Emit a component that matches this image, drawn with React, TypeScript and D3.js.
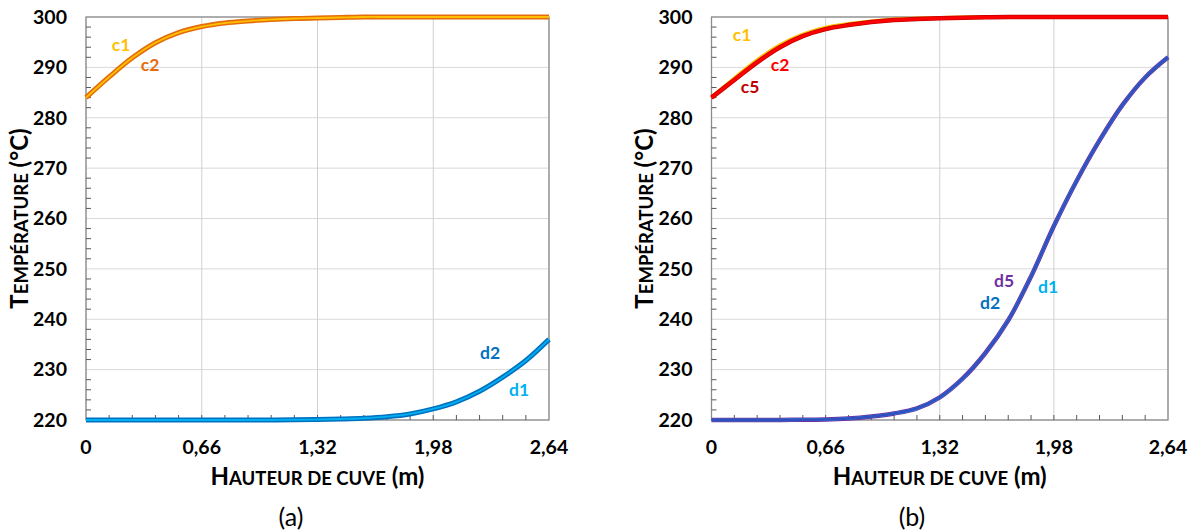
import React from "react";
import * as d3 from "d3";

// ---------- data ----------
const xValues = [0, 0.132, 0.264, 0.396, 0.528, 0.66, 0.792, 0.924, 1.056, 1.188, 1.32, 1.452, 1.584, 1.716, 1.848, 1.98, 2.112, 2.244, 2.376, 2.508, 2.64];
const xTicks = [0, 0.66, 1.32, 1.98, 2.64];
const xTickLabels = ["0", "0,66", "1,32", "1,98", "2,64"];
const yTicks = [220, 230, 240, 250, 260, 270, 280, 290, 300];

// panel (a)
const cA = [284.0, 288.1, 291.9, 294.9, 296.9, 298.1, 298.8, 299.2, 299.5, 299.7, 299.8, 299.9, 300, 300, 300, 300, 300, 300, 300, 300, 300];
const dA = [220.0, 220.0, 220.0, 220.0, 220.0, 220.0, 220.0, 220.0, 220.0, 220.05, 220.1, 220.2, 220.35, 220.65, 221.2, 222.2, 223.6, 225.7, 228.5, 231.8, 236.0];

// panel (b)
const c1B = [284.0, 287.8, 291.4, 294.4, 296.5, 297.9, 298.6, 299.1, 299.5, 299.7, 299.8, 299.9, 300, 300, 300, 300, 300, 300, 300, 300, 300];
const c2B = [284.0, 287.5, 291.0, 294.0, 296.2, 297.6, 298.4, 299.0, 299.4, 299.6, 299.75, 299.85, 299.95, 300, 300, 300, 300, 300, 300, 300, 300];
const c5B = [284.0, 287.5, 291.0, 294.0, 296.2, 297.6, 298.4, 299.0, 299.4, 299.6, 299.75, 299.85, 299.95, 300, 300, 300, 300, 300, 300, 300, 300];
const dB = [220.0, 220.0, 220.0, 220.0, 220.05, 220.1, 220.3, 220.7, 221.3, 222.3, 224.5, 228.2, 233.3, 239.8, 248.5, 258.5, 267.5, 275.5, 282.5, 288.0, 292.0];

type Series = { values: number[]; color: string; width: number };
type Label = { text: string; color: string; x: number; y: number };

const FONT = "Lato, 'Open Sans', sans-serif";

function Panel({ left, right, series, labels, caption, captionX }: {
  left: number; right: number; series: Series[]; labels: Label[]; caption: string; captionX: number;
}) {
  const top = 17, bottom = 420;
  const x = d3.scaleLinear().domain([0, 2.64]).range([left, right]);
  const y = d3.scaleLinear().domain([220, 300]).range([bottom, top]);
  const line = d3.line<[number, number]>()
    .x((d) => x(d[0]))
    .y((d) => Math.max(top, y(d[1])))
    .curve(d3.curveCatmullRom.alpha(0.5));
  const minorY = d3.range(222, 300, 2).filter((v) => v % 10 !== 0);
  const minorX = d3.range(1, 20).map((i) => i * 0.132);
  const cx = (left + right) / 2;
  return (
    <g>
      {/* grid */}
      {yTicks.map((t) => (
        <line key={"gy" + t} x1={left} x2={right} y1={y(t)} y2={y(t)} stroke="#d9d9d9" strokeWidth={1} />
      ))}
      {xTicks.map((t) => (
        <line key={"gx" + t} x1={x(t)} x2={x(t)} y1={top} y2={bottom} stroke="#d0d0d0" strokeWidth={1} />
      ))}
      {/* border */}
      <rect x={left} y={top} width={right - left} height={bottom - top} fill="none" stroke="#8c8c8c" strokeWidth={1.3} />
      {/* minor ticks */}
      {minorY.map((t) => (
        <line key={"my" + t} x1={left} x2={left + 5} y1={y(t)} y2={y(t)} stroke="#595959" strokeWidth={1} />
      ))}
      {minorX.map((t, i) => (
        <line key={"mx" + i} x1={x(t)} x2={x(t)} y1={bottom} y2={bottom - 5} stroke="#595959" strokeWidth={1} />
      ))}
      {/* series */}
      {series.map((s, i) => (
        <path key={"s" + i}
          d={line(xValues.map((xv, j) => [xv, s.values[j]] as [number, number])) || ""}
          fill="none" stroke={s.color} strokeWidth={s.width} strokeLinejoin="round" strokeLinecap="butt" />
      ))}
      {/* tick labels */}
      {yTicks.map((t) => (
        <text key={"ly" + t} x={left - 19} y={y(t)} dy="0.35em" textAnchor="end"
          fontFamily={FONT} fontWeight="bold" fontSize={19.5} fill="#000">{t}</text>
      ))}
      {xTicks.map((t, i) => (
        <text key={"lx" + t} x={x(t)} y={447} dy="0.35em" textAnchor="middle"
          fontFamily={FONT} fontWeight="bold" fontSize={19.5} fill="#000">{xTickLabels[i]}</text>
      ))}
      {/* curve labels */}
      {labels.map((l, i) => (
        <text key={"cl" + i} x={l.x} y={l.y} dy="0.35em" textAnchor="middle"
          fontFamily={FONT} fontWeight="bold" fontSize={17.5} fill={l.color}>{l.text}</text>
      ))}
      {/* axis titles */}
      <text x={cx} y={479} dy="0.35em" textAnchor="middle" fontFamily={FONT} fontWeight="bold" fill="#000">
        <tspan fontSize={24}>H</tspan><tspan fontSize={18.5}>AUTEUR DE CUVE</tspan><tspan fontSize={24}> (m)</tspan>
      </text>
      <text transform={`translate(${left - 64},${(top + bottom) / 2}) rotate(-90)`} dy="0.35em" textAnchor="middle"
        fontFamily={FONT} fontWeight="bold" fill="#000">
        <tspan fontSize={24}>T</tspan><tspan fontSize={18.5}>EMPÉRATURE</tspan><tspan fontSize={24}> (°C)</tspan>
      </text>
      <text x={captionX} y={517} dy="0.35em" textAnchor="middle" fontFamily={FONT} fontSize={25} fill="#000">{caption}</text>
    </g>
  );
}

export default function App() {
  const seriesA: Series[] = [
    { values: cA, color: "#E46C0A", width: 5 },
    { values: cA, color: "#FFC000", width: 1.8 },
    { values: dA, color: "#0070C0", width: 5 },
    { values: dA, color: "#00B0F0", width: 1.8 },
  ];
  const labelsA: Label[] = [
    { text: "c1", color: "#FFC000", x: 121, y: 45 },
    { text: "c2", color: "#E46C0A", x: 150, y: 65 },
    { text: "d2", color: "#0070C0", x: 490, y: 353 },
    { text: "d1", color: "#00B0F0", x: 519, y: 390 },
  ];
  const seriesB: Series[] = [
    { values: c1B, color: "#FFC000", width: 4 },
    { values: c5B, color: "#C00000", width: 4.5 },
    { values: c2B, color: "#FF0000", width: 3 },
    { values: dB, color: "#7030A0", width: 4.5 },
    { values: dB, color: "#00B0F0", width: 2.6 },
    { values: dB, color: "#3050C0", width: 2.4 },
  ];
  const labelsB: Label[] = [
    { text: "c1", color: "#FFC000", x: 742, y: 35 },
    { text: "c2", color: "#FF0000", x: 780, y: 65 },
    { text: "c5", color: "#C00000", x: 750, y: 87 },
    { text: "d5", color: "#7030A0", x: 1004, y: 281 },
    { text: "d2", color: "#0070C0", x: 990, y: 303 },
    { text: "d1", color: "#00B0F0", x: 1048, y: 287 },
  ];
  return (
    <svg width={1195} height={531} style={{ position: "absolute", left: 0, top: 0, background: "#fff" }}>
      <rect x={0} y={0} width={1195} height={531} fill="#fff" />
      <Panel left={86} right={549} series={seriesA} labels={labelsA} caption="(a)" captionX={291} />
      <Panel left={711.5} right={1168} series={seriesB} labels={labelsB} caption="(b)" captionX={912} />
    </svg>
  );
}
